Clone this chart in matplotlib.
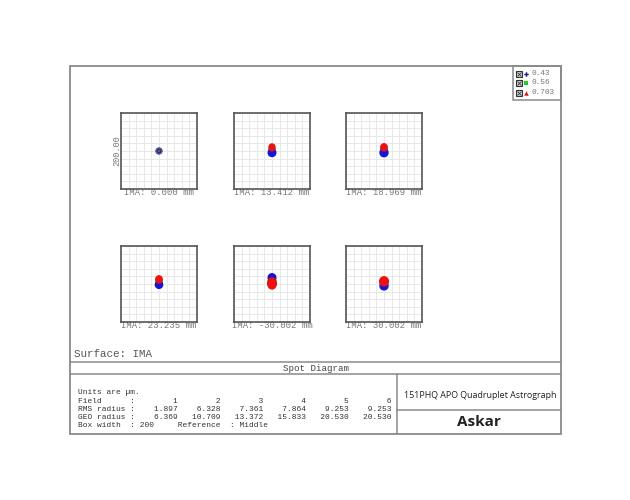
import matplotlib
matplotlib.use("Agg")
import matplotlib.pyplot as plt
from matplotlib.patches import Rectangle, Ellipse

# field positions (mm) and the spot results from the table
fields = [0.000, 13.412, 18.969, 23.235, -30.002, 30.002]
field_num = [1, 2, 3, 4, 5, 6]
rms_radius = [1.897, 6.328, 7.361, 7.864, 9.253, 9.253]
geo_radius = [6.369, 10.709, 13.372, 15.833, 20.530, 20.530]
wavelengths = ["0.43", "0.56", "0.703"]

# spot blobs per wavelength (um): centroid y offset, width, height
blue_dy = [0, -4.5, -4.5, -2, 17, -5]
blue_w = [15, 20, 21, 19, 20, 21]
blue_h = [15, 20, 21, 19, 20, 21]
green_dy = [0, 2, 2, 5, 10, 1]
green_w = [12, 17, 18, 17, 20, 20]
green_h = [12, 17, 18, 17, 20, 20]
red_dy = [0, 9.5, 9.5, 12, 1.5, 7]
red_w = [10, 16, 17, 17, 23, 23]
red_h = [10, 18, 19, 19, 29, 24]

W, H = 630, 500
fig = plt.figure(figsize=(6.3, 5.0), dpi=100)

bg = fig.add_axes([0, 0, 1, 1])
bg.set_xlim(0, W)
bg.set_ylim(H, 0)
bg.axis("off")

mono = "Liberation Mono"
frame_c = "#8a8a8a"

# outer frame and table lines
bg.add_patch(Rectangle((70, 66), 491, 368, fill=False, ec=frame_c, lw=1.3))
bg.plot([70, 561], [362, 362], color=frame_c, lw=1.1)
bg.plot([70, 561], [374, 374], color=frame_c, lw=1.1)
bg.plot([397, 397], [374, 434], color=frame_c, lw=1.1)
bg.plot([397, 561], [410, 410], color=frame_c, lw=1.1)

# legend box
bg.add_patch(Rectangle((513, 66), 48, 34, fill=False, ec=frame_c, lw=1.1))
leg_colors = ["#1a1a8c", "#22cc22", "#dd1111"]
leg_marks = ["P", "s", "^"]
for i, wl in enumerate(wavelengths):
    yy = 73.5 + i * 9.5
    bg.plot(518.5, yy, marker="s", ms=5, mfc="#d0d8d0", mec="#333333", mew=0.8)
    bg.plot(518.5, yy, marker="x", ms=2.5, mec="#333333", mew=0.6)
    bg.plot(526, yy, marker=leg_marks[i], ms=3.2, color=leg_colors[i], mew=0)
    bg.text(531, yy, wl, family=mono, fontsize=5.6, color="#777777", va="center")

# spot diagram boxes
lefts = [121, 234, 346]
tops = [113, 246]
size = 76
for k, f in enumerate(fields):
    l = lefts[k % 3]
    t = tops[k // 3]
    ax = fig.add_axes([l / W, 1 - (t + size) / H, size / W, size / H])
    ax.set_xlim(-100, 100)
    ax.set_ylim(-100, 100)
    ax.set_xticks(range(-100, 101, 20))
    ax.set_yticks(range(-100, 101, 20))
    ax.grid(True, color="#e8e8e8", lw=0.7)
    ax.tick_params(length=0, labelbottom=False, labelleft=False)
    for s in ax.spines.values():
        s.set_color("#555555")
        s.set_linewidth(1.2)
    ax.set_axisbelow(True)
    ax.add_patch(Ellipse((0, green_dy[k]), green_w[k], green_h[k], color="#22cc22", zorder=3))
    ax.add_patch(Ellipse((0, blue_dy[k]), blue_w[k], blue_h[k], color="#1515d8", zorder=4))
    if k == 0:
        ax.add_patch(Ellipse((0, blue_dy[k]), blue_w[k], blue_h[k], fc="#2a2a80", ec="#606070", lw=0.8, zorder=5))
        ax.add_patch(Ellipse((0, red_dy[k]), red_w[k] * 0.5, red_h[k] * 0.5, fc="#6a6aa8", zorder=6))
    else:
        ax.add_patch(Ellipse((0, red_dy[k]), red_w[k], red_h[k], color="#ee1111", zorder=5))
    bg.text(l + size / 2, t + size + 3.5, "IMA: %.3f mm" % f, family=mono, fontsize=6.4,
            color="#777777", ha="center", va="center")

bg.text(117, 151, "200.00", family=mono, fontsize=6.2, color="#777777", rotation=90,
        ha="center", va="center")

bg.text(74, 354, "Surface: IMA", family=mono, fontsize=7.8, color="#555555", va="center")
bg.text(316, 368.5, "Spot Diagram", family=mono, fontsize=6.6, color="#444444",
        ha="center", va="center")

# text block with the spot radii
lines = [
    "Units are \u00b5m.",
    "Field      :" + "".join("%9d" % n for n in field_num),
    "RMS radius :" + "".join("%9.3f" % v for v in rms_radius),
    "GEO radius :" + "".join("%9.3f" % v for v in geo_radius),
    "Box width  : 200     Reference  : Middle",
]
for i, ln in enumerate(lines):
    bg.text(78, 393 + i * 8.1, ln, family=mono, fontsize=5.7, color="#333333", va="center")

bg.text(480, 395.5, "151PHQ APO Quadruplet Astrograph", family="Open Sans", fontsize=6.4,
        color="#222222", ha="center", va="center")
bg.text(479, 421.5, "Askar", family="Open Sans", fontsize=11, fontweight="bold",
        color="#222222", ha="center", va="center")

fig.savefig("out.png", dpi=100)
